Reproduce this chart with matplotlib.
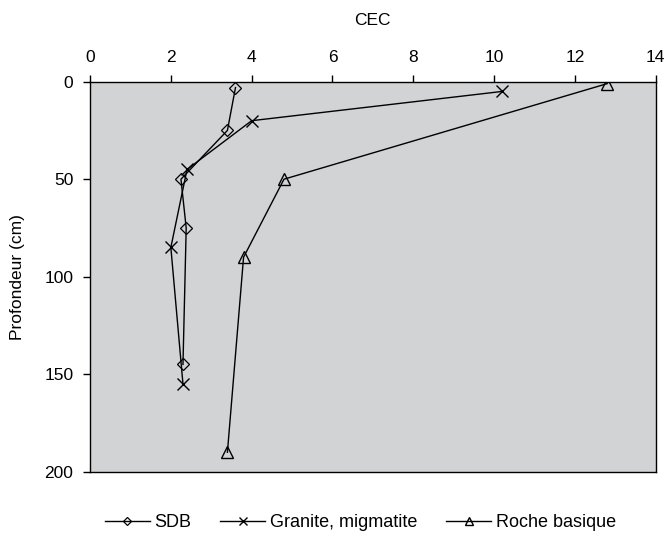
import matplotlib.pyplot as plt

plt.rcParams['font.family'] = ['Liberation Sans', 'DejaVu Sans']

# CEC values and depths (cm)
sdb_cec = [3.6, 3.4, 2.25, 2.38, 2.3]
sdb_depth = [3, 25, 50, 75, 145]

granite_cec = [10.2, 4.0, 2.4, 2.0, 2.3]
granite_depth = [5, 20, 45, 85, 155]

roche_cec = [12.8, 4.8, 3.8, 3.4]
roche_depth = [1, 50, 90, 190]

x_ticks = [0, 2, 4, 6, 8, 10, 12, 14]
y_ticks = [0, 50, 100, 150, 200]

fig = plt.figure(figsize=(6.67, 5.41), dpi=100)
ax = fig.add_axes([0.135, 0.128, 0.848, 0.721])
ax.set_facecolor('#d1d3d4')

ax.plot(sdb_cec, sdb_depth, color='black', lw=1, marker='D', ms=6.5,
        mfc='none', mec='black', mew=0.9, label='SDB')
ax.plot(granite_cec, granite_depth, color='black', lw=1, marker='x', ms=8,
        mew=1, label='Granite, migmatite')
ax.plot(roche_cec, roche_depth, color='black', lw=1, marker='^', ms=8,
        mfc='none', mec='black', mew=1, label='Roche basique')

ax.set_xlim(0, 14)
ax.set_ylim(200, 0)
ax.set_xticks(x_ticks)
ax.set_yticks(y_ticks)
ax.xaxis.tick_top()
ax.xaxis.set_label_position('top')
ax.tick_params(direction='out', length=5, width=1, labelsize=12.5,
               colors='black')
ax.tick_params(axis='x', pad=7)
ax.tick_params(axis='y', pad=7)
ax.set_xlabel('CEC', fontsize=12.5, labelpad=18)
ax.set_ylabel('Profondeur (cm)', fontsize=12.5, labelpad=14)
for s in ax.spines.values():
    s.set_linewidth(1)

fig.legend(loc='lower center', bbox_to_anchor=(0.54, -0.012), ncol=3,
           frameon=False, fontsize=13, handlelength=2.5, columnspacing=1.6,
           handletextpad=0.25, markerscale=0.7)

fig.savefig('out.png', dpi=100)
